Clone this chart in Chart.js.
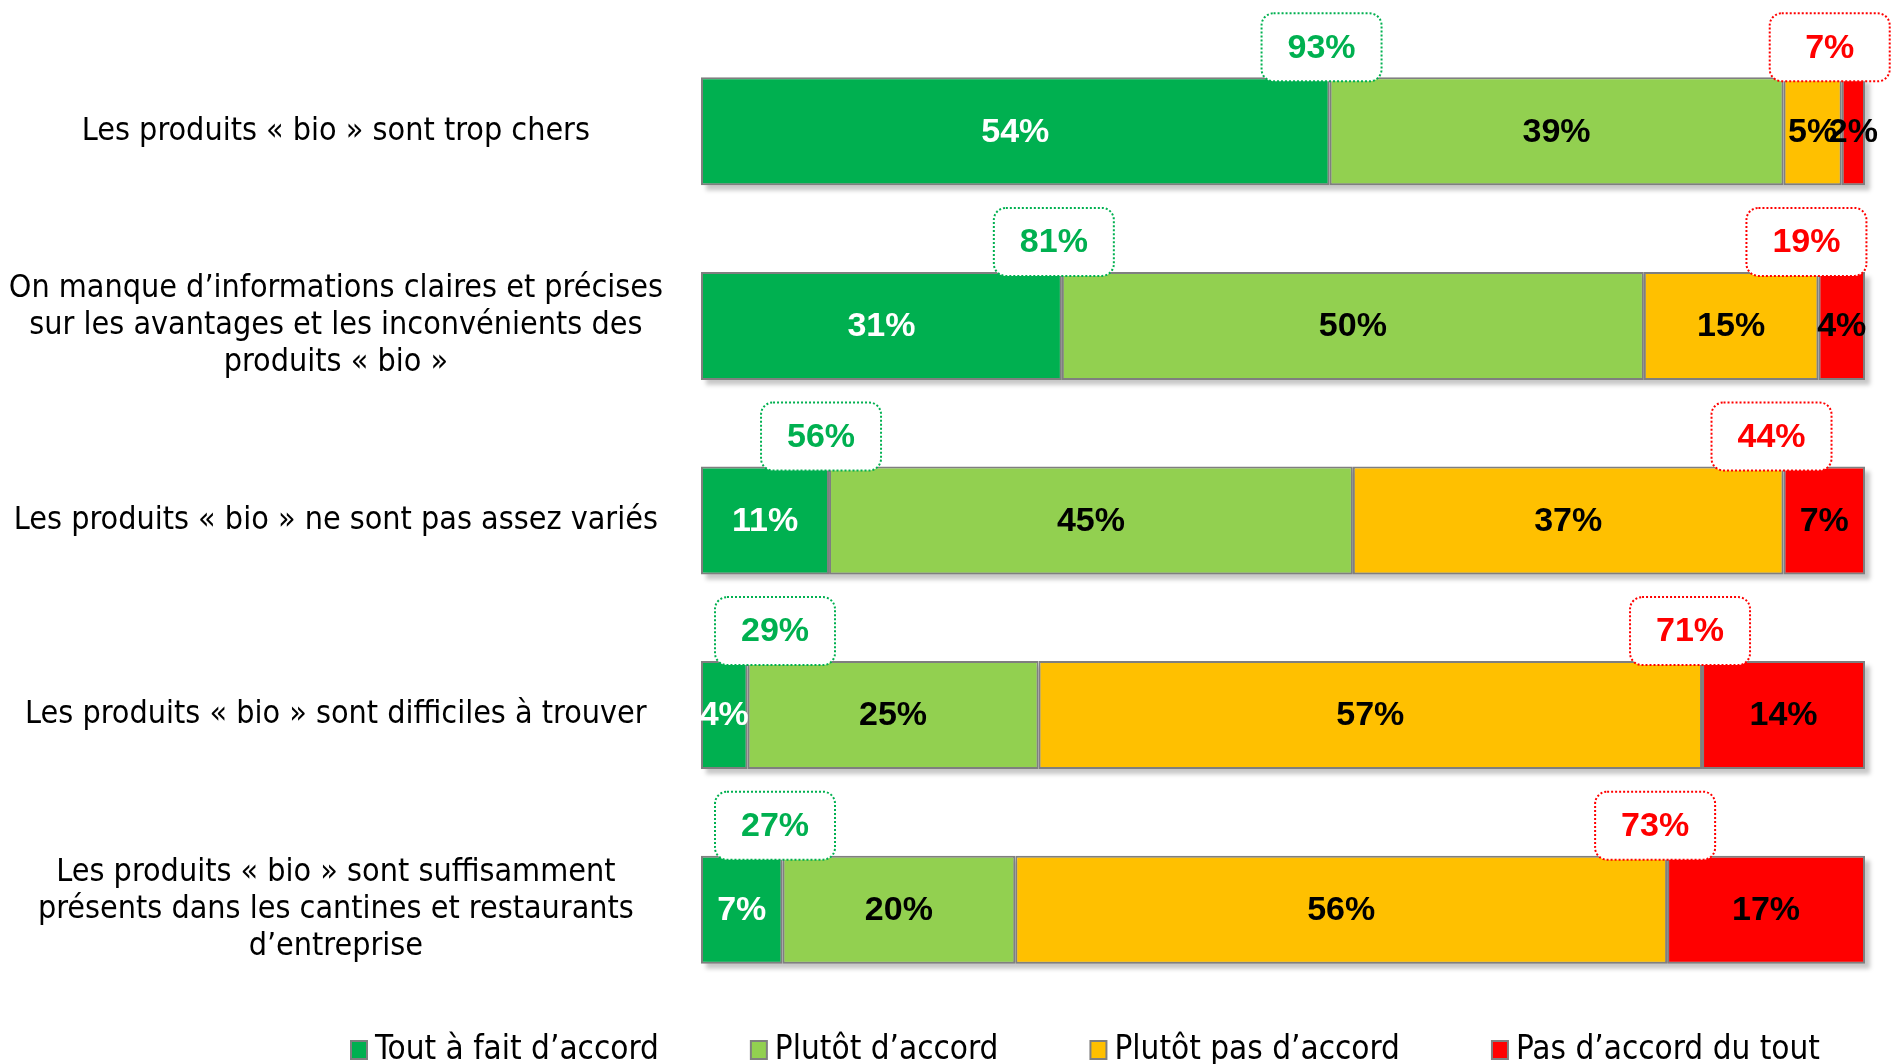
<!DOCTYPE html>
<html>
<head>
<meta charset="utf-8">
<script src="https://cdn.jsdelivr.net/npm/chart.js@4.4.0/dist/chart.umd.min.js"></script>
<style>
  body { margin: 0; background: #fff; }
  #wrap { width: 1893px; height: 1064px; position: relative; }
</style>
</head>
<body>
<div id="wrap"><canvas id="bio_chart"></canvas></div>
<script>
// questions (y axis)
const questions = [
    'Les produits « bio » sont trop chers',
    ['On manque d’informations claires et précises', 'sur les avantages et les inconvénients des', 'produits « bio »'],
    'Les produits « bio » ne sont pas assez variés',
    'Les produits « bio » sont difficiles à trouver',
    ['Les produits « bio » sont suffisamment', 'présents dans les cantines et restaurants', 'd’entreprise']
];
const seriesNames = ['Tout à fait d’accord', 'Plutôt d’accord', 'Plutôt pas d’accord', 'Pas d’accord du tout'];
const seriesColors = ['#00B050', '#92D050', '#FFC000', '#FF0000'];

// values in %
const toutAFait = [54, 31, 11, 4, 7];
const plutot = [39, 50, 45, 25, 20];
const plutotPas = [5, 15, 37, 57, 56];
const pasDuTout = [2, 4, 7, 14, 17];

// totals shown in the dotted boxes
const totalAccord = [93, 81, 56, 29, 27];
const totalPasAccord = [7, 19, 44, 71, 73];

const values = [toutAFait, plutot, plutotPas, pasDuTout];

const labelFont = '"DejaVu Sans Condensed", "DejaVu Sans", sans-serif';
const numFont = '"Liberation Sans", Arial, sans-serif';
const legendFont = '"Liberation Sans Narrow", "DejaVu Sans Condensed", sans-serif';

// grey drop shadow behind each full bar
const barShadow = {
    id: 'barShadow',
    beforeDatasetsDraw(chart) {
        const ctx = chart.ctx;
        const first = chart.getDatasetMeta(0).data;
        const last = chart.getDatasetMeta(3).data;
        ctx.save();
        ctx.fillStyle = 'rgba(0,0,0,0.22)';
        ctx.filter = 'blur(2px)';
        first.forEach((el, i) => {
            const top = el.y - el.height / 2;
            ctx.fillRect(el.base + 5, top + 5, last[i].x - el.base, el.height);
        });
        ctx.restore();
    }
};

// % inside each segment
const segLabels = {
    id: 'segLabels',
    afterDatasetsDraw(chart) {
        const ctx = chart.ctx;
        ctx.save();
        ctx.font = 'bold 34px ' + numFont;
        ctx.textAlign = 'center';
        ctx.textBaseline = 'middle';
        chart.data.datasets.forEach((ds, d) => {
            chart.getDatasetMeta(d).data.forEach((el, i) => {
                ctx.fillStyle = d === 0 ? '#fff' : '#000';
                ctx.fillText(ds.data[i] + '%', (el.x + el.base) / 2, el.y + 1);
            });
        });
        ctx.restore();
    }
};

// dotted boxes with the totals
const callouts = {
    id: 'callouts',
    afterDraw(chart) {
        const ctx = chart.ctx;
        const area = chart.chartArea;
        const g = chart.getDatasetMeta(0).data;
        const o = chart.getDatasetMeta(2).data;
        const box = (cx, top, color, txt) => {
            const w = 120, h = 68;
            ctx.save();
            ctx.beginPath();
            ctx.roundRect(cx - w / 2, top, w, h, 12);
            ctx.fillStyle = '#fff';
            ctx.fill();
            ctx.setLineDash([2, 2]);
            ctx.lineWidth = 2;
            ctx.strokeStyle = color;
            ctx.stroke();
            ctx.fillStyle = color;
            ctx.font = 'bold 34px ' + numFont;
            ctx.textAlign = 'center';
            ctx.textBaseline = 'middle';
            ctx.fillText(txt, cx, top + h / 2 + 1);
            ctx.restore();
        };
        g.forEach((el, i) => {
            const top = el.y - el.height / 2;
            const gx = Math.max(el.x - 8, area.left + 74);
            box(gx, top - 64, '#00B050', totalAccord[i] + '%');
            const rx = Math.min(o[i].x - 12, chart.width - 58);
            box(rx, top - 64, '#FF0000', totalPasAccord[i] + '%');
        });
    }
};

// legend along the bottom
const bottomLegend = {
    id: 'bottomLegend',
    afterDraw(chart) {
        const ctx = chart.ctx;
        ctx.save();
        ctx.font = '33px ' + legendFont;
        ctx.textBaseline = 'middle';
        let x = 351;
        const y = 1050;
        seriesNames.forEach((name, i) => {
            ctx.fillStyle = seriesColors[i];
            ctx.fillRect(x, y - 9, 16, 18);
            ctx.lineWidth = 2;
            ctx.strokeStyle = '#7F7F7F';
            ctx.strokeRect(x, y - 9, 16, 18);
            x += 24;
            ctx.fillStyle = '#000';
            ctx.fillText(name, x, y);
            x += ctx.measureText(name).width + 92;
        });
        ctx.restore();
    }
};

const ctx = document.getElementById('bio_chart').getContext('2d');
const bioChart = new Chart(ctx, {
    type: 'bar',
    data: {
        labels: questions,
        datasets: values.map((v, i) => ({
            label: seriesNames[i],
            data: v,
            backgroundColor: seriesColors[i],
            borderColor: '#7F7F7F',
            borderWidth: 2,
            borderSkipped: false,
            categoryPercentage: 1,
            barPercentage: 0.555
        }))
    },
    options: {
        indexAxis: 'y',
        responsive: true,
        maintainAspectRatio: false,
        animation: false,
        devicePixelRatio: 1,
        layout: { padding: { top: 34, bottom: 57, left: 0, right: 28 } },
        plugins: {
            legend: { display: false },
            tooltip: { enabled: false },
            title: { display: false }
        },
        scales: {
            x: { stacked: true, min: 0, max: 100, display: false },
            y: {
                stacked: true,
                grid: { display: false, drawTicks: false },
                border: { display: false },
                ticks: {
                    crossAlign: 'center',
                    padding: 38,
                    color: '#000',
                    font: { family: labelFont, size: 32, lineHeight: 1.16 }
                },
                afterFit(scale) {
                    scale.width = 701;
                    scale.paddingTop = 0;
                    scale.paddingBottom = 0;
                }
            }
        }
    },
    plugins: [barShadow, segLabels, callouts, bottomLegend]
});
</script>
</body>
</html>
